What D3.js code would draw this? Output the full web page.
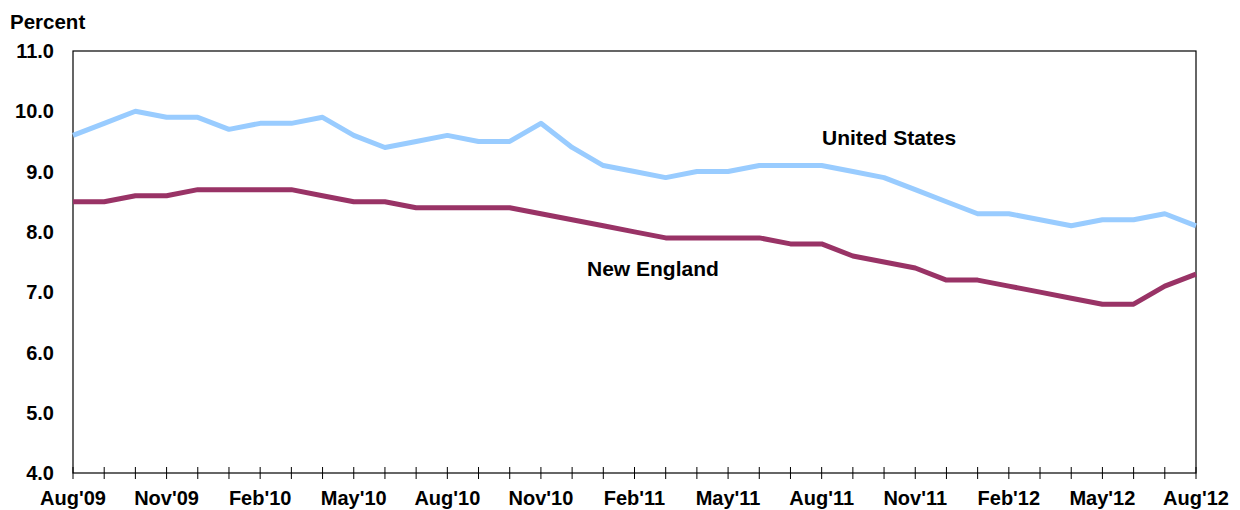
<!DOCTYPE html>
<html><head><meta charset="utf-8">
<script src="https://cdn.jsdelivr.net/npm/d3@7"></script>
<style>body{margin:0;background:#fff}text{font-family:"Liberation Sans",Arial,sans-serif;font-weight:bold;fill:#000}</style>
</head><body><svg id="c" width="1240" height="510"></svg>
<script>
const months = ["Aug'09","Sep'09","Oct'09","Nov'09","Dec'09","Jan'10","Feb'10","Mar'10","Apr'10","May'10","Jun'10","Jul'10","Aug'10","Sep'10","Oct'10","Nov'10","Dec'10","Jan'11","Feb'11","Mar'11","Apr'11","May'11","Jun'11","Jul'11","Aug'11","Sep'11","Oct'11","Nov'11","Dec'11","Jan'12","Feb'12","Mar'12","Apr'12","May'12","Jun'12","Jul'12","Aug'12"];
const unitedStates = [9.6,9.8,10.0,9.9,9.9,9.7,9.8,9.8,9.9,9.6,9.4,9.5,9.6,9.5,9.5,9.8,9.4,9.1,9.0,8.9,9.0,9.0,9.1,9.1,9.1,9.0,8.9,8.7,8.5,8.3,8.3,8.2,8.1,8.2,8.2,8.3,8.1];
const newEngland = [8.5,8.5,8.6,8.6,8.7,8.7,8.7,8.7,8.6,8.5,8.5,8.4,8.4,8.4,8.4,8.3,8.2,8.1,8.0,7.9,7.9,7.9,7.9,7.8,7.8,7.6,7.5,7.4,7.2,7.2,7.1,7.0,6.9,6.8,6.8,7.1,7.3];
const xTickLabels = ["Aug'09","Nov'09","Feb'10","May'10","Aug'10","Nov'10","Feb'11","May'11","Aug'11","Nov'11","Feb'12","May'12","Aug'12"];
const yTicks = [4,5,6,7,8,9,10,11];

const svg = d3.select("#c");
const L=73, R=1196, T=51, B=473;
const x = d3.scalePoint().domain(months).range([L,R]);
const y = d3.scaleLinear().domain([4,11]).range([B,T]);

// frame
svg.append("rect").attr("x",L).attr("y",T).attr("width",R-L).attr("height",B-T)
  .attr("fill","none").attr("stroke","#000").attr("stroke-width",1.2);

// y labels
svg.selectAll(".yl").data(yTicks).enter().append("text")
  .attr("x",54).attr("y",d=>y(d)).attr("dy","0.36em").attr("text-anchor","end")
  .style("font-size","20px").text(d=>d.toFixed(1));

// x ticks (monthly, crossing axis)
svg.selectAll(".xt").data(months).enter().append("line")
  .attr("x1",d=>x(d)).attr("x2",d=>x(d)).attr("y1",B-6).attr("y2",B+6)
  .attr("stroke","#000").attr("stroke-width",1);
svg.selectAll(".xl").data(xTickLabels).enter().append("text")
  .attr("x",d=>x(d)).attr("y",505).attr("text-anchor","middle")
  .style("font-size","20px").text(d=>d);

svg.append("text").attr("x",10).attr("y",29).style("font-size","20.5px").text("Percent");

const line = d3.line().x((d,i)=>x(months[i])).y(d=>y(d));
svg.append("path").datum(unitedStates).attr("d",line).attr("fill","none")
  .attr("stroke","#99CCFF").attr("stroke-width",5).attr("stroke-linejoin","round");
svg.append("path").datum(newEngland).attr("d",line).attr("fill","none")
  .attr("stroke","#993366").attr("stroke-width",5).attr("stroke-linejoin","round");

svg.append("text").attr("x",822).attr("y",145).style("font-size","21px").text("United States");
svg.append("text").attr("x",587).attr("y",276).style("font-size","21px").text("New England");
</script></body></html>
